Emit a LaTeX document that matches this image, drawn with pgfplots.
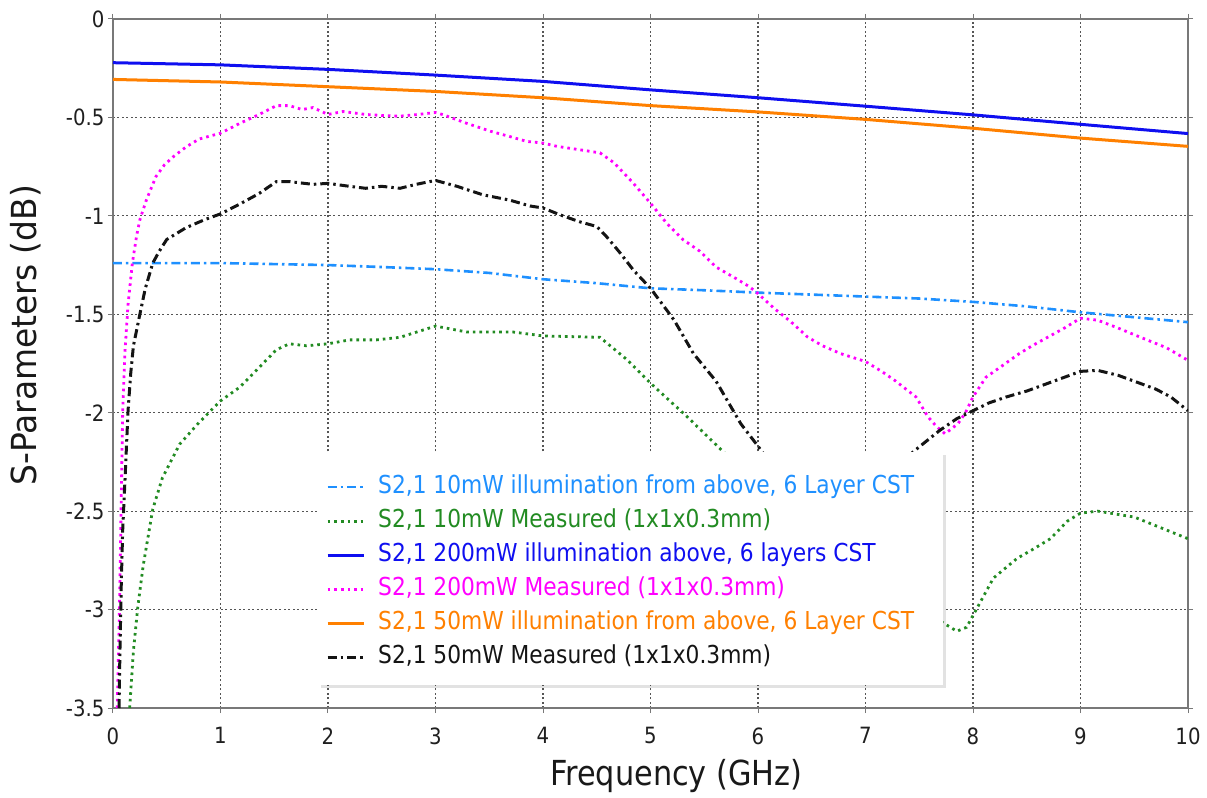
\documentclass[border=0pt]{standalone}
\usepackage{fontspec}
\setmainfont{DejaVu Sans}[FakeStretch=0.88]
\newfontfamily\ylabfont{DejaVu Sans}[FakeStretch=0.955]
\usepackage{pgfplots}
\pgfplotsset{compat=1.18}
\usetikzlibrary{shadows}

\definecolor{cstten}{RGB}{30,144,255}
\definecolor{measten}{RGB}{34,139,34}
\definecolor{csttwo}{RGB}{15,15,240}
\definecolor{meastwo}{RGB}{255,0,255}
\definecolor{cstfifty}{RGB}{255,128,0}
\definecolor{measfifty}{RGB}{20,20,20}
\definecolor{gridgray}{RGB}{85,85,85}
\definecolor{framegray}{RGB}{120,120,120}

\tikzset{
  dashdotA/.style={dash pattern=on 9bp off 4bp on 2.5bp off 4bp},
  dotsA/.style={dash pattern=on 2.6bp off 4bp},
}

\begin{document}
\begin{tikzpicture}
\begin{axis}[
  name=ax, at={(0,0)}, anchor=south west,
  width=1075bp, height=689bp, scale only axis,
  xmin=0, xmax=10, ymin=-3.5, ymax=0,
  xtick={0,1,2,3,4,5,6,7,8,9,10},
  xticklabels={0,1,2,3,4,5,6,7,8,9,10},
  ytick={-3.5,-3,-2.5,-2,-1.5,-1,-0.5,0},
  yticklabels={-3.5,-3,-2.5,-2,-1.5,-1,-0.5,0},
  tick label style={font=\fontsize{22.5}{26}\selectfont, text=black!88},
  xticklabel style={yshift=-11bp},
  grid=major,
  major grid style={gridgray, line width=1.1bp, dash pattern=on 2bp off 2.5bp},
  axis line style={framegray, line width=1.4bp},
  tick align=outside, major tick length=5bp,
  tick style={framegray, line width=1bp},
  xlabel={Frequency (GHz)},
  ylabel={\ylabfont S-Parameters (dB)},
  label style={font=\fontsize{34.6}{40}\selectfont, text=black!90},
  xlabel style={at={(axis description cs:0.524,-0.099)}, anchor=center},
  ylabel style={at={(axis description cs:-0.081,0.541)}, anchor=center},
  no markers,
  legend cell align=left,
  legend image code/.code={\draw[#1] (0bp,0bp) -- (36bp,0bp);},
  legend style={
    at={(axis description cs:0.1907,0.3672)}, anchor=north west,
    draw=none, fill=none,
    inner xsep=8bp, inner ysep=19bp, row sep=8bp, column sep=12bp,
    nodes={inner sep=1bp, text height=18bp, text depth=6bp},
    font=\fontsize{24.8}{28}\selectfont},
]

% S2,1 10 mW, CST simulation
\addplot[cstten, line width=2.6bp, dashdotA] coordinates {
 (0,-1.24) (0.5,-1.24) (1,-1.24) (1.5,-1.245) (2,-1.25) (2.5,-1.26)
 (3,-1.271) (3.5,-1.29) (4,-1.322) (4.5,-1.342) (5,-1.368) (5.5,-1.378)
 (6,-1.39) (6.5,-1.40) (7,-1.41) (7.5,-1.42) (8,-1.437) (8.5,-1.46)
 (9,-1.49) (9.5,-1.515) (10,-1.54)};
\addlegendentry[text=cstten]{S2,1 10mW illumination from above, 6 Layer CST}

% S2,1 10 mW, measured
\addplot[measten, line width=2.8bp, dotsA] coordinates {
 (0.155,-3.5) (0.19,-3.21) (0.23,-2.99) (0.28,-2.78) (0.37,-2.49) (0.46,-2.33)
 (0.62,-2.16) (0.80,-2.05) (1.0,-1.94) (1.18,-1.87) (1.36,-1.77) (1.52,-1.68)
 (1.64,-1.65) (1.80,-1.66) (2.0,-1.65) (2.2,-1.63) (2.45,-1.63) (2.67,-1.617)
 (3.0,-1.56) (3.29,-1.59) (3.72,-1.59) (4.0,-1.61) (4.53,-1.617) (4.78,-1.73)
 (5.0,-1.85) (5.34,-2.02) (5.68,-2.2) (6.0,-2.35) (6.5,-2.6) (7.0,-2.85)
 (7.4,-3.0) (7.70,-3.06) (7.85,-3.11) (7.94,-3.09) (8.04,-2.99) (8.19,-2.84)
 (8.41,-2.74) (8.57,-2.69) (8.72,-2.64) (8.88,-2.55) (9.0,-2.51) (9.16,-2.5)
 (9.5,-2.53) (9.75,-2.585) (10,-2.64)};
\addlegendentry[text=measten]{S2,1 10mW Measured (1x1x0.3mm)}

% S2,1 200 mW, CST simulation
\addplot[csttwo, line width=3bp] coordinates {
 (0,-0.222) (1,-0.233) (2,-0.256) (3,-0.285) (4,-0.317) (5,-0.36)
 (6,-0.40) (7,-0.443) (8,-0.487) (9,-0.535) (10,-0.582)};
\addlegendentry[text=csttwo]{S2,1 200mW illumination above, 6 layers CST}

% S2,1 200 mW, measured
\addplot[meastwo, line width=2.8bp, dotsA] coordinates {
 (0.04,-3.5) (0.06,-3.0) (0.075,-2.5) (0.09,-2.0) (0.11,-1.7) (0.14,-1.45)
 (0.18,-1.24) (0.22,-1.1) (0.25,-1.02) (0.31,-0.92) (0.40,-0.80) (0.48,-0.74)
 (0.56,-0.70) (0.68,-0.65) (0.8,-0.61) (1.0,-0.58) (1.18,-0.53) (1.36,-0.485)
 (1.52,-0.44) (1.64,-0.44) (1.76,-0.46) (1.86,-0.45) (2.0,-0.485) (2.14,-0.47)
 (2.35,-0.485) (2.5,-0.49) (2.66,-0.494) (2.82,-0.486) (3.0,-0.475) (3.07,-0.486)
 (3.29,-0.53) (3.51,-0.57) (3.69,-0.597) (3.85,-0.622) (4.0,-0.63) (4.13,-0.647)
 (4.34,-0.664) (4.53,-0.68) (4.66,-0.73) (4.84,-0.834) (5.0,-0.936) (5.15,-1.037)
 (5.3,-1.12) (5.46,-1.18) (5.61,-1.26) (5.8,-1.32) (5.92,-1.36) (6.0,-1.395)
 (6.15,-1.47) (6.31,-1.54) (6.46,-1.615) (6.6,-1.66) (6.77,-1.70) (7.0,-1.74)
 (7.15,-1.79) (7.27,-1.835) (7.47,-1.92) (7.58,-2.02) (7.66,-2.07) (7.74,-2.107)
 (7.86,-2.056) (7.93,-2.0) (8.0,-1.92) (8.12,-1.82) (8.25,-1.77) (8.43,-1.70)
 (8.55,-1.66) (8.7,-1.615) (8.85,-1.57) (9.0,-1.52) (9.16,-1.53) (9.35,-1.57)
 (9.55,-1.615) (9.8,-1.67) (10,-1.734)};
\addlegendentry[text=meastwo]{S2,1 200mW Measured (1x1x0.3mm)}

% S2,1 50 mW, CST simulation
\addplot[cstfifty, line width=3bp] coordinates {
 (0,-0.307) (1,-0.32) (2,-0.344) (3,-0.368) (4,-0.40) (5,-0.44)
 (6,-0.472) (7,-0.51) (8,-0.555) (9,-0.605) (10,-0.647)};
\addlegendentry[text=cstfifty]{S2,1 50mW illumination from above, 6 Layer CST}

% S2,1 50 mW, measured
\addplot[measfifty, line width=3bp, dashdotA] coordinates {
 (0.056,-3.5) (0.065,-3.2) (0.077,-2.87) (0.09,-2.6) (0.11,-2.36) (0.14,-1.99)
 (0.165,-1.8) (0.19,-1.66) (0.25,-1.5) (0.30,-1.37) (0.37,-1.24) (0.43,-1.18)
 (0.50,-1.12) (0.68,-1.06) (0.85,-1.02) (1.0,-0.99) (1.18,-0.94) (1.36,-0.886)
 (1.52,-0.826) (1.64,-0.826) (1.86,-0.84) (2.0,-0.835) (2.2,-0.85) (2.35,-0.86)
 (2.5,-0.85) (2.67,-0.86) (2.82,-0.84) (3.0,-0.82) (3.2,-0.85) (3.44,-0.893)
 (3.69,-0.92) (3.88,-0.95) (4.0,-0.96) (4.16,-0.995) (4.34,-1.03) (4.5,-1.054)
 (4.59,-1.105) (4.72,-1.19) (4.84,-1.275) (5.0,-1.368) (5.15,-1.478) (5.22,-1.53)
 (5.4,-1.70) (5.61,-1.84) (5.84,-2.056) (6.0,-2.17) (6.2,-2.32) (6.5,-2.48)
 (6.8,-2.52) (7.1,-2.44) (7.3,-2.32) (7.44,-2.2) (7.69,-2.09) (7.85,-2.03)
 (8.0,-1.99) (8.15,-1.95) (8.31,-1.92) (8.5,-1.89) (8.7,-1.85) (8.85,-1.82)
 (9.0,-1.79) (9.16,-1.785) (9.35,-1.81) (9.55,-1.85) (9.7,-1.88) (9.84,-1.92)
 (10,-1.99)};
\addlegendentry[text=measfifty]{S2,1 50mW Measured (1x1x0.3mm)}

% white panel with a soft shadow behind the legend entries
\fill[white, drop shadow={shadow xshift=3bp, shadow yshift=-3bp, opacity=0.16, fill=black!70}]
  (axis description cs:0.1907,0.3716) rectangle (axis description cs:0.7721,0.0334);

\end{axis}
\pgfresetboundingbox
\path (ax.south west) ++(-113bp,-90bp) rectangle ++(1207bp,798bp);
\end{tikzpicture}
\end{document}
